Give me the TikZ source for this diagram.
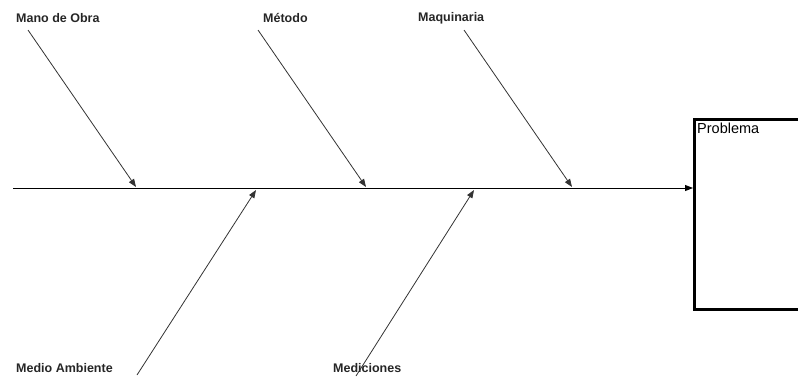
\documentclass[tikz,border=0pt]{standalone}
\usepackage{fontspec}
\setmainfont{Liberation Sans}
\usetikzlibrary{arrows.meta}
\begin{document}
\begin{tikzpicture}[x=1pt,y=-1pt,
  cause/.style={font=\fontsize{12.5}{14}\selectfont\bfseries, inner sep=0pt, anchor=west, text=black!85},
  bone/.style={draw=black!80, line width=0.8pt, -{Triangle[length=8pt,width=6pt]}},
  spine/.style={draw=black, line width=0.9pt, -{Triangle[length=8pt,width=6pt]}}]
  \useasboundingbox (0,0) rectangle (798,376);
  \clip (0,0) rectangle (798,376);

  % effect box
  \node[draw, line width=2.5pt, minimum width=140pt, minimum height=190pt,
        anchor=north west, inner sep=0pt] (box) at (693,118) {};
  \node[font=\fontsize{14.5}{16}\selectfont, anchor=north west, inner sep=0pt] (problema)
        at ([xshift=4pt,yshift=-5pt]box.north west) {Problema};

  % spine
  \coordinate (tail) at (13,188);
  \draw[spine] (tail) -- (tail -| box.west);

  % cause labels
  \node[cause] (mano) at (16,18) {Mano de Obra};
  \node[cause] (metodo) at (263,18) {Método};
  \node[cause] (maq) at (418,18) {Maquinaria};
  \node[cause] (medio) at (16,368) {Medio Ambiente};
  \node[cause] (medic) at (333,368) {Mediciones};

  % bone ends
  \coordinate (manoS) at (28,30);   \coordinate (manoT) at (136,187);
  \coordinate (metS) at (258,30);   \coordinate (metT) at (366,187);
  \coordinate (maqS) at (464,30);   \coordinate (maqT) at (572,187);
  \coordinate (medS) at (137,375);  \coordinate (medT) at (256,190);
  \coordinate (micS) at (356,376);  \coordinate (micT) at (474,190);

  % bones
  \draw[bone] (manoS) -- (manoT);
  \draw[bone] (metS) -- (metT);
  \draw[bone] (maqS) -- (maqT);
  \draw[bone] (medS) -- (medT);
  \draw[bone] (micS) -- (micT);
\end{tikzpicture}
\end{document}
